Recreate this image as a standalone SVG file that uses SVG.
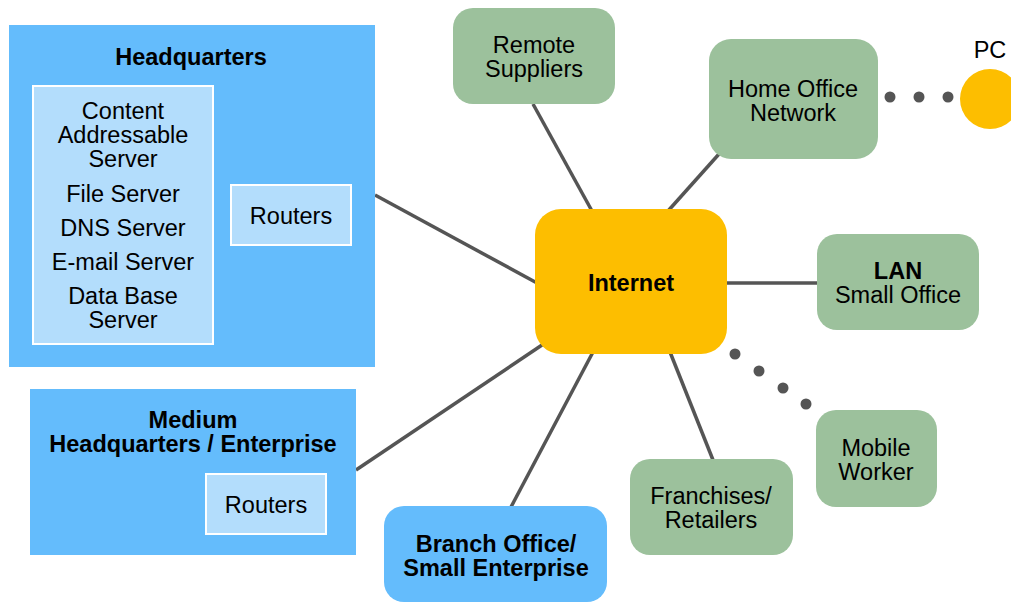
<svg xmlns="http://www.w3.org/2000/svg" width="1011" height="603" viewBox="0 0 1011 603">
<style>
text{font-family:"Liberation Sans",Arial,sans-serif;font-size:23.5px;fill:#000;text-anchor:middle}
.b{font-weight:bold}
.blue{fill:#64bcfc}
.lite{fill:#b3ddfc;stroke:#fff;stroke-width:2}
.green{fill:#9cc19c}
.link{stroke:#555;stroke-width:3.5;fill:none}
.dot{fill:#555}
</style>
<rect width="1011" height="603" fill="#fff"/>
<g id="connectors">
<line class="link" x1="375" y1="195" x2="537" y2="283"/>
<line class="link" x1="356" y1="470" x2="545" y2="343"/>
<line class="link" x1="533" y1="104" x2="592" y2="211"/>
<line class="link" x1="719" y1="154" x2="668" y2="211"/>
<line class="link" x1="725" y1="283" x2="818" y2="283"/>
<line class="link" x1="670" y1="352" x2="713" y2="460"/>
<line class="link" x1="511" y1="507" x2="593" y2="352"/>
<circle class="dot" cx="890" cy="97" r="5.5"/>
<circle class="dot" cx="919" cy="97" r="5.5"/>
<circle class="dot" cx="948" cy="97" r="5.5"/>
<circle class="dot" cx="735" cy="354" r="5.5"/>
<circle class="dot" cx="759" cy="371" r="5.5"/>
<circle class="dot" cx="783" cy="388" r="5.5"/>
<circle class="dot" cx="806" cy="404" r="5.5"/>
</g>
<g id="headquarters">
<rect class="blue" x="9" y="25" width="366" height="342"/>
<text class="b" x="191" y="65">Headquarters</text>
<rect class="lite" x="33" y="86" width="180" height="258"/>
<text x="123" y="119">Content</text>
<text x="123" y="143">Addressable</text>
<text x="123" y="167">Server</text>
<text x="123" y="202">File Server</text>
<text x="123" y="236">DNS Server</text>
<text x="123" y="270">E-mail Server</text>
<text x="123" y="304">Data Base</text>
<text x="123" y="328">Server</text>
<rect class="lite" x="231" y="185" width="120" height="60"/>
<text x="291" y="224">Routers</text>
</g>
<g id="medium">
<rect class="blue" x="30" y="389" width="326" height="166"/>
<text class="b" x="193" y="428">Medium</text>
<text class="b" x="193" y="452">Headquarters / Enterprise</text>
<rect class="lite" x="206" y="474" width="120" height="60"/>
<text x="266" y="513">Routers</text>
</g>
<g id="internet">
<rect x="535" y="209" width="192" height="145" rx="26" fill="#fdbe00"/>
<text class="b" x="631" y="291">Internet</text>
</g>
<g id="remote">
<rect class="green" x="453" y="8" width="162" height="96" rx="20"/>
<text x="534" y="53">Remote</text>
<text x="534" y="77">Suppliers</text>
</g>
<g id="home">
<rect class="green" x="709" y="39" width="169" height="120" rx="22"/>
<text x="793" y="97">Home Office</text>
<text x="793" y="121">Network</text>
</g>
<g id="pc">
<circle cx="990" cy="99" r="30" fill="#fdbe00"/>
<text x="990" y="58">PC</text>
</g>
<g id="lan">
<rect class="green" x="817" y="234" width="162" height="96" rx="20"/>
<text class="b" x="898" y="279">LAN</text>
<text x="898" y="303">Small Office</text>
</g>
<g id="mobile">
<rect class="green" x="816" y="410" width="121" height="97" rx="20"/>
<text x="876" y="456">Mobile</text>
<text x="876" y="480">Worker</text>
</g>
<g id="franchises">
<rect class="green" x="630" y="459" width="163" height="96" rx="20"/>
<text x="711" y="504">Franchises/</text>
<text x="711" y="528">Retailers</text>
</g>
<g id="branch">
<rect class="blue" x="384" y="506" width="223" height="96" rx="20"/>
<text class="b" x="496" y="552">Branch Office/</text>
<text class="b" x="496" y="576">Small Enterprise</text>
</g>
</svg>
